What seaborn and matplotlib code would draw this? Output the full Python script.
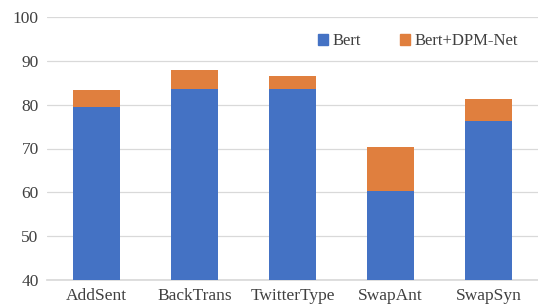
import matplotlib
matplotlib.use("Agg")
import matplotlib.pyplot as plt
import seaborn as sns
import pandas as pd
from matplotlib.patches import Patch

categories = ["AddSent", "BackTrans", "TwitterType", "SwapAnt", "SwapSyn"]
bert = [79.5, 83.5, 83.5, 60.3, 76.3]
bert_dpm = [83.4, 87.8, 86.6, 70.4, 81.2]
yticks = [40, 50, 60, 70, 80, 90, 100]

sns.set_theme(style="white")
plt.rcParams["font.family"] = ["Liberation Serif", "DejaVu Serif"]

blue = "#4472C4"
orange = "#E07F3E"

df = pd.DataFrame({"cat": categories, "bert": bert, "total": bert_dpm})

fig = plt.figure(figsize=(5.38, 3.05), dpi=100)
ax = fig.add_axes([47/538, 25/305, 491/538, 263/305])

sns.barplot(data=df, x="cat", y="total", color=orange, saturation=1, width=0.48, ax=ax,
            zorder=2, linewidth=0)
sns.barplot(data=df, x="cat", y="bert", color=blue, saturation=1, width=0.48, ax=ax,
            zorder=3, linewidth=0)

ax.set_ylim(40, 100)
ax.set_yticks(yticks)
ax.set_xlim(-0.5, 4.5)
ax.set_xlabel("")
ax.set_ylabel("")
ax.yaxis.grid(True, color="#D9D9D9", linewidth=0.9, zorder=0)
ax.set_axisbelow(True)
for s in ["top", "right", "left"]:
    ax.spines[s].set_visible(False)
ax.spines["bottom"].set_color("#D9D9D9")
ax.tick_params(axis="both", length=0, labelsize=12.5, colors="#404040")
ax.tick_params(axis="y", pad=6)
ax.tick_params(axis="x", pad=6)

handles = [Patch(color=blue, label="Bert"), Patch(color=orange, label="Bert+DPM-Net")]
ax.legend(handles=handles, loc="upper right", bbox_to_anchor=(0.99, 0.995), ncol=2, frameon=False,
          fontsize=12, handlelength=0.6, handleheight=0.6, handletextpad=0.3, columnspacing=2.3,
          labelcolor="#404040")

fig.savefig("out.png", dpi=100)
